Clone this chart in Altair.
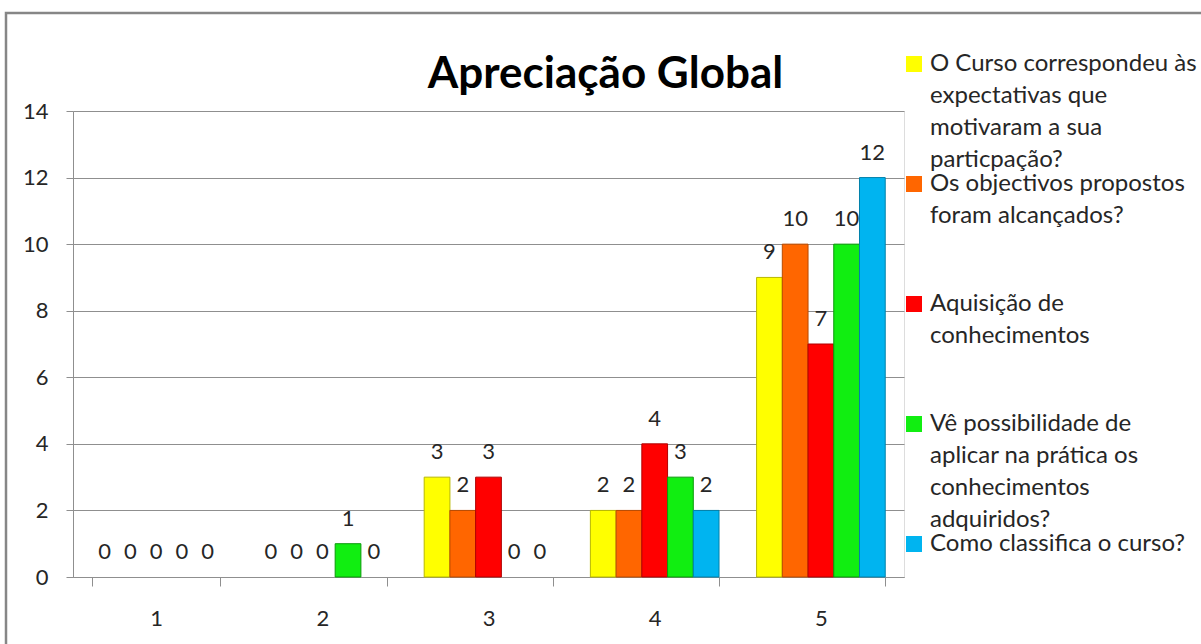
import altair as alt
import pandas as pd

# Rating levels on the x axis
categories = ["1", "2", "3", "4", "5"]

# Questionnaire items (line breaks are used to wrap the legend labels)
series = [
    "O Curso correspondeu às\nexpectativas que\nmotivaram a sua\nparticpação?",
    "Os objectivos propostos\nforam alcançados?",
    "Aquisição de\nconhecimentos",
    "Vê possibilidade de\naplicar na prática os\nconhecimentos\nadquiridos?",
    "Como classifica o curso?",
]

# Number of answers per rating level, one list per item
curso_expectativas = [0, 0, 3, 2, 9]
objectivos = [0, 0, 2, 2, 10]
aquisicao = [0, 0, 3, 4, 7]
aplicar_pratica = [0, 1, 0, 3, 10]
classifica_curso = [0, 0, 0, 2, 12]

fill_colors = ["#FFFF00", "#FF6600", "#FF0000", "#11EE11", "#00B4F0"]
edge_colors = ["#B8B800", "#B84A00", "#B00000", "#0A9A0A", "#0080AA"]

all_counts = [curso_expectativas, objectivos, aquisicao, aplicar_pratica, classifica_curso]
rows = []
for name, counts in zip(series, all_counts):
    for cat, n in zip(categories, counts):
        rows.append({"nivel": cat, "item": name, "respostas": n})
df = pd.DataFrame(rows)

FONT = "Lato"
TEXT_COLOR = "#262626"
GRID = "#8f8f8f"

x_enc = alt.X(
    "nivel:N",
    sort=categories,
    scale=alt.Scale(domain=categories, paddingInner=0.226, paddingOuter=0.113),
    axis=alt.Axis(
        title=None,
        labelAngle=0,
        tickBand="extent",
        tickSize=9,
        labelPadding=22,
        domainColor=GRID,
        tickColor=GRID,
        labelFont=FONT,
        labelFontSize=22,
        labelColor=TEXT_COLOR,
        grid=False,
    ),
)
xoff_enc = alt.XOffset(
    "item:N",
    sort=series,
    scale=alt.Scale(domain=series, paddingInner=0, paddingOuter=0),
)
y_enc = alt.Y(
    "respostas:Q",
    scale=alt.Scale(domain=[0, 14], nice=False),
    axis=alt.Axis(
        title=None,
        values=[0, 2, 4, 6, 8, 10, 12, 14],
        tickSize=7,
        labelPadding=18,
        domainColor=GRID,
        tickColor=GRID,
        gridColor=GRID,
        gridWidth=1,
        labelFont=FONT,
        labelFontSize=22,
        labelColor=TEXT_COLOR,
    ),
)

base = alt.Chart(df)

# Zero counts get a label but no visible bar
bars = base.transform_filter("datum.respostas > 0").mark_bar(strokeWidth=1).encode(
    x=x_enc,
    xOffset=xoff_enc,
    y=y_enc,
    color=alt.Color(
        "item:N",
        scale=alt.Scale(domain=series, range=fill_colors),
        legend=alt.Legend(
            title=None,
            orient="none",
            legendX=829,
            legendY=-59,
            direction="vertical",
            gridAlign="all",
            rowPadding=0,
            padding=0,
            symbolType="square",
            symbolSize=256,
            symbolStrokeWidth=0,
            labelOffset=4,
            labelFont=FONT,
            labelFontSize=24,
            labelColor=TEXT_COLOR,
            labelLimit=400,
            labelBaseline="middle",
            labelExpr="split(datum.label, '\\n')",
        ),
    ),
    stroke=alt.Stroke(
        "item:N",
        scale=alt.Scale(domain=series, range=edge_colors),
        legend=None,
    ),
)

labels = base.mark_text(
    baseline="middle",
    dy=-25,
    font=FONT,
    fontSize=22,
    color=TEXT_COLOR,
).encode(
    x=alt.X("nivel:N", sort=categories),
    xOffset=alt.XOffset("item:N", sort=series),
    y=alt.Y("respostas:Q"),
    text=alt.Text("respostas:Q"),
)

# Outer frame around the whole chart
frame = alt.Chart(alt.Data(values=[{"f": 1}])).mark_rect(
    fill=None, stroke="#868686", strokeWidth=2.5
).encode(
    x=alt.value(-67),
    x2=alt.value(1150),
    y=alt.value(-98),
    y2=alt.value(600),
)

chart = (
    alt.layer(bars, labels, frame)
    .properties(
        width=831,
        height=466,
        autosize=alt.AutoSizeParams(type="none"),
        padding={"left": 73, "top": 111, "right": 297, "bottom": 67},
        title=alt.Title(
            "Apreciação Global",
            font=FONT,
            fontSize=44,
            fontWeight="bold",
            color="black",
            anchor="middle",
            frame="group",
            offset=4,
            dx=117,
            dy=124,
            baseline="alphabetic",
        ),
    )
    .configure_view(stroke=None)
    .configure(background="white", style={"guide-label": {"lineHeight": 32}})
)

chart.save("out.html", embed_options={"renderer": "svg", "actions": False})
